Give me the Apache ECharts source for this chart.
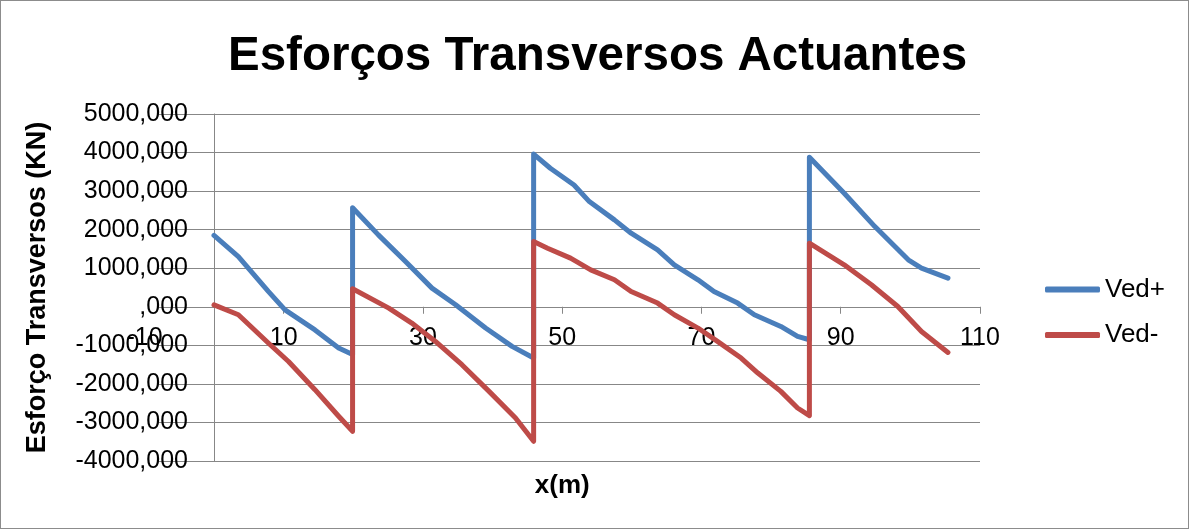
<!DOCTYPE html>
<html>
<head>
<meta charset="utf-8">
<script src="https://cdn.jsdelivr.net/npm/echarts@6/dist/echarts.min.js"></script>
<style>
  html, body { margin: 0; padding: 0; background: #fff; }
  #wrap { position: relative; width: 1189px; height: 529px; }
  #chart { position: absolute; left: 0; top: 0; width: 1189px; height: 529px; }
  #frame { position: absolute; left: 0; top: 0; width: 1189px; height: 529px; box-sizing: border-box; border: 1px solid #8c8c8c; pointer-events: none; }
</style>
</head>
<body>
<div id="wrap"><div id="chart"></div><div id="frame"></div></div>
<script>
// ---- data ----
const vedPlusX  = [0, 3.5, 7.8, 10.2, 14.5, 17.9, 19.9,
                   19.9, 23.6, 27.5, 31.3, 34.7, 39.0, 42.8, 45.9,
                   45.9, 48.3, 51.7, 53.9, 57.5, 59.9, 63.7, 66.1, 69.5, 71.8, 75.2, 77.6, 81.4, 83.8, 85.5,
                   85.5, 90.5, 94.9, 99.7, 101.6, 105.4];
const vedPlusY  = [1850, 1300, 400, -80, -600, -1070, -1240,
                   2570, 1865, 1174, 484, 52, -552, -1028, -1330,
                   3960, 3593, 3160, 2728, 2254, 1909, 1477, 1088, 700, 397, 96, -207, -510, -769, -855,
                   3880, 2945, 2080, 1218, 1002, 743];
const vedMinusX = [0, 3.5, 7.8, 10.7, 14.5, 17.9, 19.9,
                   19.9, 25.1, 28.4, 31.8, 35.6, 39.5, 43.3, 45.9,
                   45.9, 47.9, 51.2, 54.1, 57.5, 59.9, 63.7, 66.1, 69.5, 72.3, 75.7, 78.1, 81.4, 83.8, 85.5,
                   85.5, 90.5, 94.4, 98.2, 101.6, 105.4];
const vedMinusY = [50, -207, -940, -1420, -2150, -2840, -3230,
                   466, -34, -423, -898, -1503, -2194, -2884, -3490,
                   1692, 1520, 1261, 958, 700, 397, 96, -207, -552, -898, -1330, -1718, -2194, -2625, -2824,
                   1650, 1088, 570, 8, -640, -1184];
const xTickValues  = [10, 30, 50, 70, 90, 110];
const xTickLabels  = [-10, 10, 30, 50, 70, 90, 110];
const seriesNames  = ['Ved+', 'Ved-'];
const seriesColors = ['#4A7EBB', '#BE4B48'];
const titleText    = 'Esforços Transversos Actuantes';
const yAxisTitle   = 'Esforço Transversos (KN)';
const xAxisTitle   = 'x(m)';

// ---- chart ----
const FONT = "'Liberation Sans', Arial, sans-serif";
const GRAY = '#878787';
const pairs = (xs, ys) => xs.map((x, i) => [x, ys[i]]);

const chart = echarts.init(document.getElementById('chart'), null, { renderer: 'canvas' });
chart.setOption({
  animation: false,
  backgroundColor: '#fff',
  textStyle: { fontFamily: FONT },
  title: {
    text: titleText,
    left: 228, top: 33, padding: 0,
    textStyle: { fontFamily: FONT, fontSize: 47.5, fontWeight: 'bold', color: '#000' }
  },
  legend: {
    orient: 'vertical',
    left: 1040, top: 271.5,
    itemWidth: 55, itemHeight: 6, itemGap: 19.5,
    textStyle: { fontFamily: FONT, fontSize: 26, color: '#000', lineHeight: 26 },
    data: seriesNames.map(n => ({ name: n, icon: 'roundRect' }))
  },
  grid: [
    { left: 214, right: 209, top: 114, bottom: 68, outerBoundsMode: 'none' },
    { left: 144.5, right: 209, top: 114, bottom: 68, outerBoundsMode: 'none' }
  ],
  xAxis: [
    {
      type: 'value', gridIndex: 0, min: 0, max: 110, interval: 10,
      axisLine: { show: true, onZero: true, lineStyle: { color: GRAY, width: 1 } },
      axisTick: { show: true, length: 7, customValues: xTickValues, lineStyle: { color: GRAY, width: 1 } },
      axisLabel: { show: false },
      splitLine: { show: false }
    },
    {
      // label-only axis spanning -10..110, placed on the y = 0 line of the plot
      type: 'value', gridIndex: 1, min: -10, max: 110, interval: 20,
      position: 'bottom', offset: -154.2,
      axisLine: { show: false, onZero: false },
      axisTick: { show: false },
      axisLabel: { show: true, margin: 19, fontFamily: FONT, fontSize: 25, color: '#000', customValues: xTickLabels },
      splitLine: { show: false },
      name: xAxisTitle, nameLocation: 'middle', nameGap: 166,
      nameTextStyle: { fontFamily: FONT, fontSize: 26, fontWeight: 'bold', color: '#000' }
    }
  ],
  yAxis: [
    {
      type: 'value', gridIndex: 0, min: -4000, max: 5000, interval: 1000,
      axisLine: { show: true, lineStyle: { color: GRAY, width: 1 } },
      axisTick: { show: true, length: 56, lineStyle: { color: GRAY, width: 1 } },
      axisLabel: {
        show: true, margin: 26, fontFamily: FONT, fontSize: 25, color: '#000',
        formatter: v => (v === 0 ? ',000' : v + ',000')
      },
      splitLine: { show: true, lineStyle: { color: GRAY, width: 1 } },
      name: yAxisTitle, nameLocation: 'middle', nameGap: 163, nameRotate: 90,
      nameTextStyle: { fontFamily: FONT, fontSize: 27, fontWeight: 'bold', color: '#000' }
    },
    {
      type: 'value', gridIndex: 1, min: -4000, max: 5000, interval: 1000, show: false
    }
  ],
  series: [
    {
      name: seriesNames[0], type: 'line', xAxisIndex: 0, yAxisIndex: 0,
      data: pairs(vedPlusX, vedPlusY),
      showSymbol: false, symbol: 'none', smooth: false,
      lineStyle: { color: seriesColors[0], width: 5, cap: 'round', join: 'round' },
      itemStyle: { color: seriesColors[0] }
    },
    {
      name: seriesNames[1], type: 'line', xAxisIndex: 0, yAxisIndex: 0,
      data: pairs(vedMinusX, vedMinusY),
      showSymbol: false, symbol: 'none', smooth: false,
      lineStyle: { color: seriesColors[1], width: 5, cap: 'round', join: 'round' },
      itemStyle: { color: seriesColors[1] }
    }
  ]
});
</script>
</body>
</html>
